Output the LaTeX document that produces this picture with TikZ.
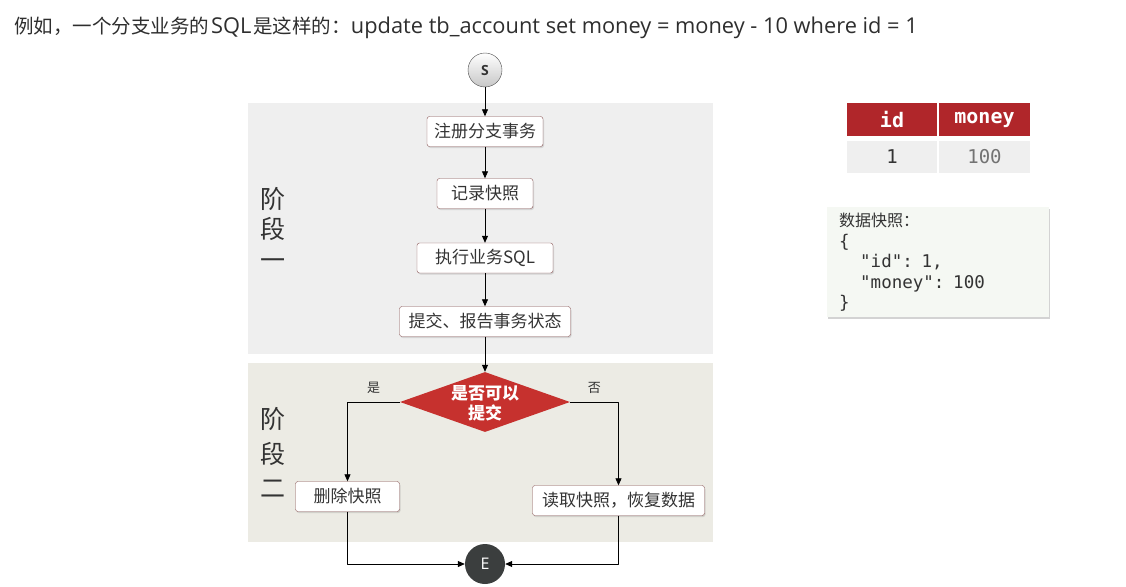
\documentclass[tikz,border=0pt]{standalone}
\usepackage{fontspec}
\setmainfont{Open Sans}
\setmonofont{DejaVu Sans Mono}
\newfontfamily\cjk{Noto Sans CJK SC}
\usetikzlibrary{shapes.geometric,shadows,arrows.meta}
\definecolor{txtgray}{HTML}{333333}
\definecolor{boxline}{HTML}{8A5656}
\definecolor{phaseone}{HTML}{EFEFEF}
\definecolor{phasetwo}{HTML}{ECEBE4}
\definecolor{hdred}{HTML}{B0262A}
\definecolor{dmred}{HTML}{C6312E}
\definecolor{cellgray}{HTML}{EFEFEF}
\definecolor{snapfill}{HTML}{F5F8F3}
\definecolor{endgray}{HTML}{3B3E3E}

\begin{document}
\begin{tikzpicture}[x=1pt, y=-1pt, line join=round, >={Triangle[length=7pt,width=6pt]},
    stepbox/.style={draw=boxline, fill=white, rounded corners=2.5pt, minimum height=30pt, inner sep=0pt,
        text=txtgray, font=\cjk\fontsize{17}{20}\selectfont,
        drop shadow={shadow xshift=1pt, shadow yshift=-1.5pt, opacity=0.25}},
    decision/.style={diamond, fill=dmred, minimum width=170pt, minimum height=60pt, inner sep=0pt},
    flow/.style={->, line width=0.8pt},
    branch/.style={inner sep=0pt, text=txtgray, font=\cjk\fontsize{13}{15}\selectfont},
    phase/.style={text=txtgray, align=center, inner sep=0pt},
    headcell/.style={fill=hdred, text=white, minimum width=91pt, minimum height=33pt, inner sep=0pt,
        font=\ttfamily\bfseries\fontsize{20}{22}\selectfont},
    datacell/.style={fill=cellgray, text=txtgray, minimum width=91pt, minimum height=32pt, inner sep=0pt,
        font=\ttfamily\fontsize{19}{21}\selectfont}]
    \useasboundingbox (0,0) rectangle (1126,586);

    % phase backgrounds
    \fill[phaseone] (248,103) rectangle (713,354);
    \fill[phasetwo] (248,363) rectangle (713,542);

    \node[anchor=west, inner sep=0pt, text=txtgray!90!black, font=\fontsize{21.8}{24}\selectfont] (title) at (14,28)
        {{\cjk\fontsize{19.5}{24}\selectfont 例如，一个分支业务的}\hspace{2pt}SQL\hspace{2pt}{\cjk\fontsize{19.5}{24}\selectfont 是这样的：}update tb\_account set money = money - 10 where id = 1};

    \node[phase, font=\cjk\fontsize{25}{30.5}\selectfont] (p1) at (273,228) {阶\\段\\一};
    \node[phase, font=\cjk\fontsize{25}{34.5}\selectfont] (p2) at (273,452.5) {阶\\段\\二};

    \node[circle, draw=black!70, inner sep=0pt, minimum size=34pt, top color=white, bottom color=black!22,
        text=txtgray, font=\bfseries\fontsize{14}{16}\selectfont] (s) at (485,70) {S};
    \node[stepbox, minimum width=116pt] (reg) at (485,131.5) {注册分支事务};
    \node[stepbox, minimum width=96pt] (record) at (485,193.5) {记录快照};
    \node[stepbox, minimum width=136pt] (exec) at (485,258) {执行业务SQL};
    \node[stepbox, minimum width=171pt] (report) at (485,321.5) {提交、报告事务状态};
    \node[decision] (ok) at (485,402) {};
    \node[text=white, align=center, inner sep=0pt, font=\cjk\bfseries\fontsize{17}{20}\selectfont] (oklabel) at (485,403) {是否可以\\提交};
    \node[stepbox, minimum width=104pt] (del) at (347.5,496.5) {删除快照};
    \node[stepbox, minimum width=172pt] (restore) at (618.5,500.5) {读取快照，恢复数据};
    \node[circle, fill=endgray, minimum size=40pt, inner sep=0pt, text=white,
        font=\fontsize{16}{18}\selectfont] (e) at (485,564) {E};

    \draw[flow] (s) -- (reg);
    \draw[flow] (reg) -- (record);
    \draw[flow] (record) -- (exec);
    \draw[flow] (exec) -- (report);
    \draw[flow] (report) -- (ok);
    \draw[flow] (ok.west) -| node[branch, pos=0.25, above=8pt] (yes) {是} (del.north);
    \draw[flow] (ok.east) -| node[branch, pos=0.25, above=8pt] (no) {否} (restore.north);
    \draw[flow] (del.south) |- (e.west);
    \draw[flow] (restore.south) |- (e.east);

    % table and snapshot
    \node[headcell, minimum width=90pt] (hid) at (892,119.5) {id};
    \node[headcell] (hmoney) at (984.5,119.5) {money};
    \node[datacell, minimum width=90pt] (did) at (892,156.5) {1};
    \node[datacell, text=black!55] (dmoney) at (984.5,156.5) {100};

    \node[anchor=north west, fill=snapfill, minimum width=222pt, minimum height=110pt, text width=198pt,
        align=left, inner xsep=12pt, inner ysep=0pt, text=txtgray, font=\ttfamily\fontsize{17.5}{20.5}\selectfont,
        drop shadow={shadow xshift=1pt, shadow yshift=-2pt, opacity=0.35}] (data) at (827,207)
        {{\cjk\fontsize{16}{20.5}\selectfont 数据快照：}\\\{\\\hspace*{21pt}"id": 1,\\\hspace*{21pt}"money": 100\\\}};
\end{tikzpicture}
\end{document}
